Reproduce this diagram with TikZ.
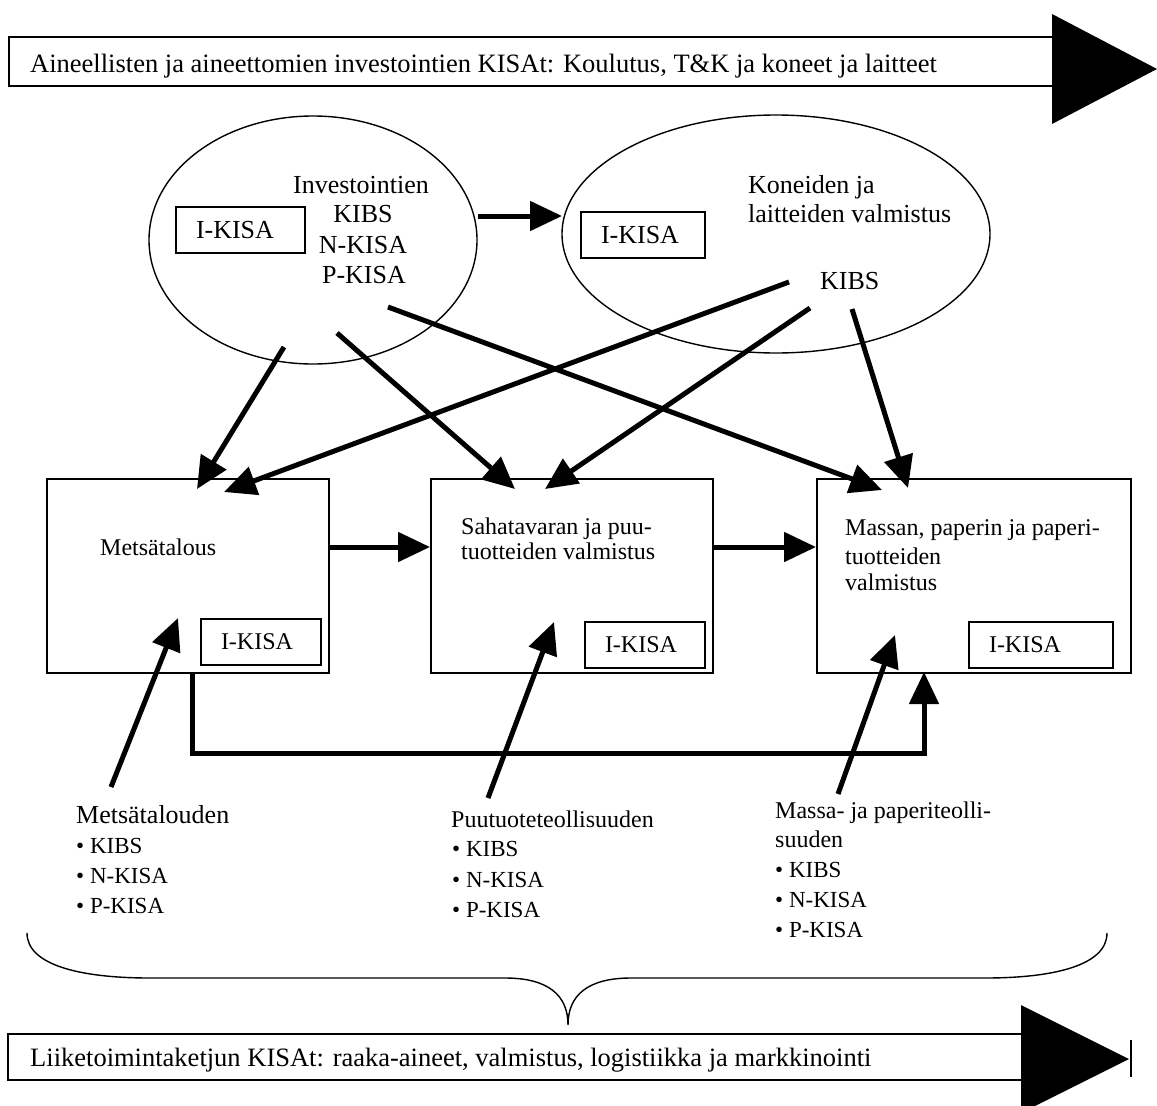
\documentclass[tikz,border=0pt]{standalone}
\usepackage{fontspec}
\setmainfont{Liberation Serif}
\usetikzlibrary{arrows.meta,shapes.geometric}
\begin{document}
\begin{tikzpicture}[x=1pt,y=-1pt,
  conn/.style={line width=5pt,-{Triangle[length=32pt,width=29pt]}},
  bigbox/.style={draw,line width=1.8pt,rectangle,anchor=north west,inner sep=0pt,minimum height=194pt},
  ikbox/.style={draw,line width=1.6pt,rectangle,minimum height=46pt,inner xsep=20pt,align=left,font=\fontsize{24}{28}\selectfont},
  ell/.style={draw,ellipse,line width=1.4pt,inner sep=0pt},
  bar/.style={draw,line width=1.6pt,rectangle,anchor=north west,inner sep=0pt},
  txt/.style={inner sep=0pt,anchor=base west},
  fbig/.style={font=\fontsize{26}{30}\selectfont},
  fbar/.style={font=\fontsize{26.5}{30}\selectfont},
  fbox/.style={font=\fontsize{24}{28}\selectfont},
  fsm/.style={font=\fontsize{23}{27}\selectfont}]
\useasboundingbox (0,0) rectangle (1157,1106);

% banners
\node[bar,minimum width=1044pt,minimum height=49pt] (topbar) at (8,36) {};
\fill (1052,14) -- (1157,69) -- (1052,124) -- cycle;
\node[txt,fbar] (toptext) at (30,72) {Aineellisten ja aineettomien investointien KISAt: Koulutus, T\&K ja koneet ja laitteet};

\node[bar,minimum width=1014pt,minimum height=46pt] (botbar) at (7,1033) {};
\fill (1021,1005) -- (1129,1059) -- (1021,1113) -- cycle;
\draw[line width=1.5pt] (1131,1040) -- (1131,1077);
\node[txt,fbar] (bottext) at (30,1066) {Liiketoimintaketjun KISAt: raaka-aineet, valmistus, logistiikka ja markkinointi};

% ellipses
\node[ell,minimum width=328pt,minimum height=248pt] (ell1) at (313,240) {};
\node[ell,minimum width=428pt,minimum height=238pt] (ell2) at (776,234) {};
\node[ikbox,text width=89pt,fbig] (ik1) at (240.5,230) {I-KISA};
\node[ikbox,text width=84pt,fbig] (ik2) at (643,235) {I-KISA};
\node[inner sep=0pt,anchor=base,fbig] (e1a) at (361,193) {Investointien};
\node[inner sep=0pt,anchor=base,fbig] (e1b) at (363,222) {KIBS};
\node[inner sep=0pt,anchor=base,fbig] (e1c) at (363,253) {N-KISA};
\node[inner sep=0pt,anchor=base,fbig] (e1d) at (364,283) {P-KISA};
\node[txt,fbig] (e2a) at (748,193) {Koneiden ja};
\node[txt,fbig] (e2b) at (748,222) {laitteiden valmistus};
\node[txt,fbig] (e2c) at (820,289) {KIBS};

% boxes
\node[bigbox,minimum width=282pt] (box1) at (46,478) {};
\node[bigbox,minimum width=282pt] (box2) at (430,478) {};
\node[bigbox,minimum width=314pt] (box3) at (816,478) {};
\node[ikbox,text width=80pt] (ik3) at (261,642) {I-KISA};
\node[ikbox,text width=80pt] (ik4) at (645,645) {I-KISA};
\node[ikbox,text width=104pt] (ik5) at (1041,645) {I-KISA};
\node[txt,fbox] (t1) at (100,555) {Metsätalous};
\node[txt,fbox] (t2a) at (461,534) {Sahatavaran ja puu-};
\node[txt,fbox] (t2b) at (461,559) {tuotteiden valmistus};
\node[txt,fbox] (t3a) at (845,535) {Massan, paperin ja paperi-};
\node[txt,fbox] (t3b) at (845,564) {tuotteiden};
\node[txt,fbox] (t3c) at (845,590) {valmistus};

% bottom labels
\node[txt,fbig] (m1) at (76,823) {Metsätalouden};
\node[txt,fsm] (m2) at (76,853) {• KIBS};
\node[txt,fsm] (m3) at (76,883) {• N-KISA};
\node[txt,fsm] (m4) at (76,913) {• P-KISA};
\node[txt,fbox] (p1) at (451,827) {Puutuoteteollisuuden};
\node[txt,fsm] (p2) at (452,856) {• KIBS};
\node[txt,fsm] (p3) at (452,887) {• N-KISA};
\node[txt,fsm] (p4) at (452,917) {• P-KISA};
\node[txt,fbox] (s1) at (775,818) {Massa- ja paperiteolli-};
\node[txt,fbox] (s2) at (775,847) {suuden};
\node[txt,fsm] (s3) at (775,877) {• KIBS};
\node[txt,fsm] (s4) at (775,907) {• N-KISA};
\node[txt,fsm] (s5) at (775,937) {• P-KISA};

% brace
\draw[line width=1.4pt] (27,933) .. controls (27,965) and (80,978) .. (150,978) -- (505,978)
  .. controls (548,978) and (568,995) .. (568,1025)
  .. controls (568,995) and (588,978) .. (631,978) -- (985,978)
  .. controls (1055,978) and (1107,965) .. (1107,933);

% connector end points
\coordinate (ea) at (478,216);
\coordinate (eb) at (562,216);
\coordinate (aS) at (284,347); \coordinate (aT) at (197,489);
\coordinate (cS) at (337,333); \coordinate (cT) at (515,489);
\coordinate (dS) at (388,307); \coordinate (dT) at (882,490);
\coordinate (bS) at (789,282); \coordinate (bT) at (224,492);
\coordinate (eS) at (810,308); \coordinate (eT) at (545,489);
\coordinate (fS) at (852,309); \coordinate (fT) at (908,488);
\coordinate (gS) at (111,787); \coordinate (gT) at (178,618);
\coordinate (hS) at (488,798); \coordinate (hT) at (554,622);
\coordinate (iS) at (838,794); \coordinate (iT) at (895,635);
\coordinate (row) at (0,547);
\coordinate (elA) at (192,672);
\coordinate (elB) at (192,753);
\coordinate (elC) at (924,753);
\coordinate (elD) at (924,672);

\draw[conn] (ea) -- (eb);
\draw[conn] (aS) -- (aT);
\draw[conn] (cS) -- (cT);
\draw[conn] (dS) -- (dT);
\draw[conn] (bS) -- (bT);
\draw[conn] (eS) -- (eT);
\draw[conn] (fS) -- (fT);
\draw[conn] (gS) -- (gT);
\draw[conn] (hS) -- (hT);
\draw[conn] (iS) -- (iT);
\draw[conn] (box1.east |- row) -- (box2.west |- row);
\draw[conn] (box2.east |- row) -- (box3.west |- row);
\draw[conn] (elA) -- (elB) -- (elC) -- (elD);
\end{tikzpicture}
\end{document}
